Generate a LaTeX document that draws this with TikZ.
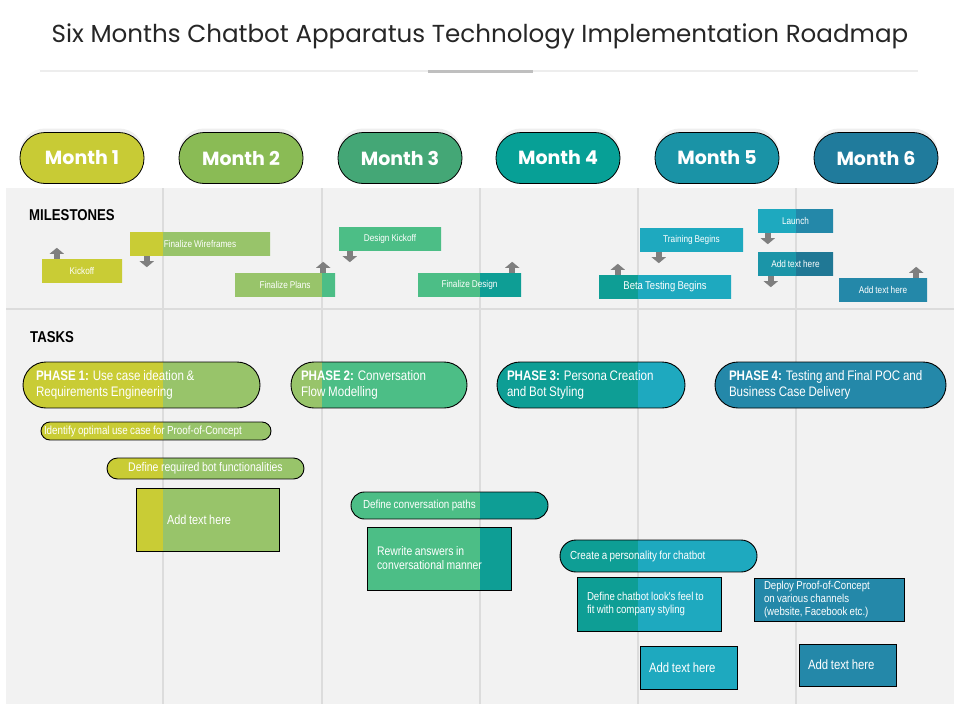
\documentclass[tikz,border=0pt]{standalone}
\usepackage{fontspec}
\setmainfont{Liberation Sans}
\newfontfamily\nar[FakeStretch=0.84,WordSpace=0.85]{Liberation Sans}
\newfontfamily\ttl{Poppins}
\usetikzlibrary{arrows.meta,shadows}

\definecolor{c1}{HTML}{C9CC35}
\definecolor{c2}{HTML}{98C46A}
\definecolor{c3}{HTML}{4CBE86}
\definecolor{c4}{HTML}{0E9E95}
\definecolor{c5}{HTML}{1EA9BF}
\definecolor{c6}{HTML}{2488A9}
\definecolor{m1}{HTML}{C8CB35}
\definecolor{m2}{HTML}{8ABB55}
\definecolor{m3}{HTML}{44A776}
\definecolor{m4}{HTML}{07A096}
\definecolor{m5}{HTML}{1A93A6}
\definecolor{m6}{HTML}{207B9C}
\definecolor{panel}{HTML}{F2F2F2}
\definecolor{rulegray}{HTML}{DCDCDC}
\definecolor{arrowgray}{HTML}{7F7F7F}

\begin{document}
\begin{tikzpicture}[x=1pt,y=-1pt,font=\nar,
    colfill/.style={path picture={
        \foreach \a/\b/\cc in {0/1/c1,1/2/c2,2/3/c3,3/4/c4,4/5/c5,5/6/c6}
          \fill[\cc!#1,sharp corners] (k\a |- path picture bounding box.north) rectangle (k\b |- path picture bounding box.south);}},
    colfill/.default=100]
      \tikzstyle{month}=[rectangle,rounded corners=25pt,draw=black,line width=0.8pt,minimum width=124pt,minimum height=51pt,text=white,font=\ttl\bfseries\fontsize{19}{22}\selectfont,drop shadow={shadow xshift=0pt,shadow yshift=4pt,opacity=0.12}];
      \tikzstyle{ms}=[colfill,inner sep=0pt,minimum height=24pt,text=white,font=\nar\fontsize{9.8}{11}\selectfont];
      \tikzstyle{msarrow}=[draw=arrowgray,line width=6pt,-{Triangle[width=14pt,length=6pt]}];
      \tikzstyle{task}=[draw=black,line width=0.9pt,inner sep=0pt,text=white,align=flush left];
      \tikzstyle{phase}=[task,rounded corners=23pt,minimum height=46pt,font=\nar\fontsize{13.8}{16}\selectfont];
      \tikzstyle{hdr}=[anchor=west,inner sep=0pt,font=\nar\bfseries\fontsize{15.7}{18}\selectfont];

        \useasboundingbox[fill=white] (0,0) rectangle (960,720);
        \foreach \x [count=\i from 0] in {0,163,322,480,638,796,960}
          \coordinate (k\i) at (\x,0);

        % title
        \node[font=\ttl\fontsize{24.6}{28}\selectfont,text=black!85] (title) at (480,36) {Six Months Chatbot Apparatus Technology Implementation Roadmap};
        \draw[black!7,line width=2pt] (40,71) -- (918,71);
        \draw[black!25,line width=3pt] (428,71) -- (533,71);

        % months
        \foreach \i/\x in {1/82,2/241,3/400,4/558,5/717,6/876}
          \node[month,fill=m\i] (mon\i) at (\x,158) {Month \i};

        % grid
        \fill[panel] (6,188) rectangle (954,704);
        \foreach \x in {163,322,480,638,796}
          \draw[rulegray,line width=1.2pt] (\x,188) -- (\x,704);
        \draw[rulegray,line width=1.2pt] (6,309) -- (954,309);

        % milestones
        \node[hdr] (mlab) at (29,215) {MILESTONES};
        \node[ms,minimum width=80pt] (kick) at (82,271) {Kickoff};
        \node[ms,minimum width=140pt] (wire) at (200,244) {Finalize Wireframes};
        \node[ms,minimum width=100pt] (plans) at (285,285) {Finalize Plans};
        \node[ms,minimum width=102pt] (dkick) at (390,239) {Design Kickoff};
        \node[ms,minimum width=103pt] (fdes) at (469.5,285) {Finalize Design};
        \node[ms,minimum width=132pt,font=\nar\fontsize{11.3}{13}\selectfont] (beta) at (665,287) {Beta Testing Begins};
        \node[ms,minimum width=103pt] (train) at (691.5,240) {Training Begins};
        \node[ms,minimum width=75pt] (launch) at (795.5,221) {Launch};
        \node[ms,colfill=88!black,minimum width=75pt] (addm) at (795.5,264) {Add text here};
        \node[ms,minimum width=88pt] (addr) at (883,290) {Add text here};

        \draw[msarrow] ([xshift=15pt]kick.north west) -- ++(0,-11);
        \draw[msarrow] ([xshift=17pt]wire.south west) -- ++(0,11);
        \draw[msarrow] ([xshift=-12pt]plans.north east) -- ++(0,-11);
        \draw[msarrow] ([xshift=11pt]dkick.south west) -- ++(0,11);
        \draw[msarrow] ([xshift=-9pt]fdes.north east) -- ++(0,-11);
        \draw[msarrow] ([xshift=19pt]beta.north west) -- ++(0,-11);
        \draw[msarrow] ([xshift=19pt]train.south west) -- ++(0,11);
        \draw[msarrow] ([xshift=10pt]launch.south west) -- ++(0,11);
        \draw[msarrow] ([xshift=13pt]addm.south west) -- ++(0,11);
        \draw[msarrow] ([xshift=-11pt]addr.north east) -- ++(0,-11);

        % tasks
        \node[hdr] (tlab) at (30,337) {TASKS};
        \node[phase,colfill,minimum width=237pt,text width=211pt] (ph1) at (141.5,385) {\textbf{PHASE 1:} Use case ideation \&\\Requirements Engineering};
        \node[phase,colfill,minimum width=176pt,text width=156pt] (ph2) at (379,385) {\textbf{PHASE 2:} Conversation\\Flow Modelling};
        \node[phase,colfill,minimum width=188pt,text width=168pt] (ph3) at (591,385) {\textbf{PHASE 3:} Persona Creation\\and Bot Styling};
        \node[phase,fill=c6,minimum width=231pt,text width=203pt] (ph4) at (830.5,385) {\textbf{PHASE 4:} Testing and Final POC and\\Business Case Delivery};

        \node[task,colfill,rounded corners=9pt,minimum width=230pt,minimum height=18pt,text width=224pt,font=\nar\fontsize{11.7}{13}\selectfont] (t1) at (156,431) {Identify optimal use case for Proof-of-Concept};
        \node[task,colfill,rounded corners=10.5pt,minimum width=197pt,minimum height=21pt,align=center,font=\nar\fontsize{12.5}{14}\selectfont] (t2) at (205.5,468.5) {Define required bot functionalities};
        \node[task,colfill,minimum width=143pt,minimum height=63pt,text width=81pt,font=\nar\fontsize{13}{15}\selectfont] (t3) at (207.5,519.5) {Add text here};
        \node[task,colfill,rounded corners=13.5pt,minimum width=197pt,minimum height=27pt,text width=173pt,font=\nar\fontsize{11.7}{13}\selectfont] (t4) at (449.5,505.5) {Define conversation paths};
        \node[task,colfill,minimum width=144pt,minimum height=63pt,text width=124pt,font=\nar\fontsize{12.4}{14}\selectfont] (t5) at (439,558.5) {Rewrite answers in\\conversational manner};
        \node[task,colfill,rounded corners=16pt,minimum width=197pt,minimum height=32pt,text width=177pt,font=\nar\fontsize{11.7}{13}\selectfont] (t6) at (658.5,556) {Create a personality for chatbot};
        \node[task,colfill,minimum width=144pt,minimum height=54pt,text width=124pt,font=\nar\fontsize{11.5}{13}\selectfont] (t7) at (649,604) {Define chatbot look's feel to\\fit with company styling};
        \node[task,fill=c6,minimum width=150pt,minimum height=43pt,text width=130pt,font=\nar\fontsize{11.5}{13}\selectfont] (t8) at (829,599.5) {Deploy Proof-of-Concept\\on various channels\\(website, Facebook etc.)};
        \node[task,colfill,minimum width=97pt,minimum height=43pt,text width=79pt,font=\nar\fontsize{13.5}{15}\selectfont] (t9) at (688.5,667.5) {Add text here};
        \node[task,colfill,minimum width=97pt,minimum height=42pt,text width=79pt,font=\nar\fontsize{13.5}{15}\selectfont] (t10) at (847.5,665) {Add text here};
    \end{tikzpicture}
\end{document}
